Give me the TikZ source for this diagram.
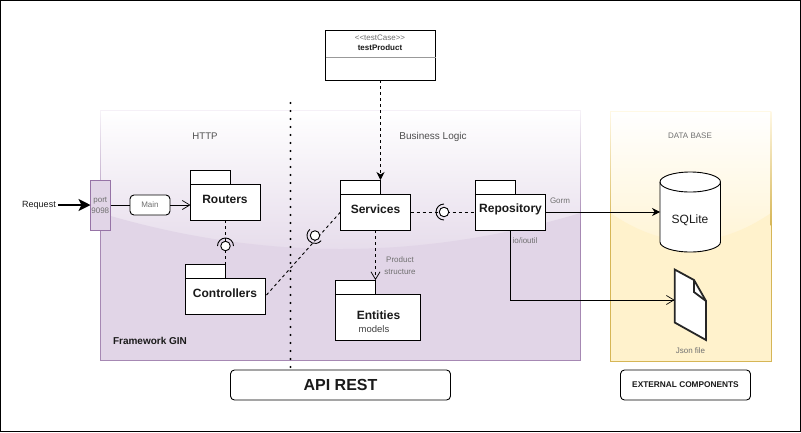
\documentclass[tikz,border=0pt]{standalone}
\usepackage{fontspec}
\setmainfont{Liberation Sans}
\usetikzlibrary{arrows.meta,calc}
\definecolor{purplefill}{HTML}{E1D5E7}
\definecolor{purpleline}{HTML}{9673A6}
\definecolor{yellowfill}{HTML}{FFF2CC}
\definecolor{yellowline}{HTML}{D6B656}
\definecolor{inktext}{HTML}{1A1A1A}
\definecolor{softtext}{HTML}{707070}
\newcommand{\fs}[1]{\fontsize{#1}{#1}\selectfont}
\tikzset{
  x=1pt,y=-1pt,
  every node/.style={inner sep=0pt,outer sep=0pt,text=inktext},
  solidline/.style={draw=black,line width=0.9pt},
  dashline/.style={draw=black,line width=0.9pt,dash pattern=on 3pt off 3pt},
  opentip/.style={-{Straight Barb[length=7.5pt,width=9pt,line width=0.7pt]}},
  filledtip/.style={-{Stealth[length=8pt,width=8pt,inset=2.5pt]}},
  pkgbody/.style={draw=black,fill=white,line width=0.9pt,minimum width=#1},
  pkgtab/.style={draw=black,fill=white,line width=0.9pt,minimum width=40pt,minimum height=14pt},
  pkgtext/.style={font=\fs{12}\bfseries},
  roundbox/.style={draw=black,fill=white,line width=0.9pt,rounded corners=4pt},
  small/.style={text=softtext,font=\fs{8}},
  ball/.style={circle,draw=black,fill=white,line width=0.9pt,minimum size=9.5pt},
  socket/.style={draw=black,line width=0.9pt},
}
\begin{document}
\begin{tikzpicture}
\useasboundingbox (0,0) rectangle (801,432);
\fill[white] (0,0) rectangle (801,432);
\draw[black,line width=1pt] (0.5,0.5) rectangle (800.3,431.2);

% purple container
\shade[top color=white,bottom color=purplefill!82!white]
  (100.5,110.5) rectangle (580.5,250);
\fill[purplefill!82!white] (100.5,250) rectangle (580.5,262);
\fill[purplefill] (100.5,213) .. controls (260.5,261) and (420.5,261) .. (580.5,213)
  -- (580.5,360.5) -- (100.5,360.5) -- cycle;
\draw[purplefill!35!white,line width=0.8pt] (100.5,110.5) -- (580.5,110.5);
\shade[top color=purplefill!30!white,bottom color=purpleline!85!white] (100.1,110.5) rectangle (100.9,225);
\shade[top color=purplefill!30!white,bottom color=purpleline!85!white] (580.1,110.5) rectangle (580.9,225);
\draw[purpleline!85!white,line width=0.8pt] (100.5,225) -- (100.5,360.5) -- (580.5,360.5) -- (580.5,225);

% yellow container
\shade[top color=white,bottom color=yellowfill!85!white]
  (610.5,111) rectangle (771,250);
\fill[yellowfill!85!white] (610.5,250) rectangle (771,262);
\fill[yellowfill] (610.5,213) .. controls (664,250) and (717,250) .. (771,213)
  -- (771,361) -- (610.5,361) -- cycle;
\draw[yellowfill!50!white,line width=0.8pt] (610.5,111) -- (771,111);
\shade[top color=yellowfill!50!white,bottom color=yellowline] (610.1,111) rectangle (610.9,225);
\shade[top color=yellowfill!50!white,bottom color=yellowline] (770.6,111) rectangle (771.4,225);
\draw[yellowline,line width=0.8pt] (610.5,225) -- (610.5,361) -- (771,361) -- (771,225);

% separator
\coordinate (septop) at (290.5,103);
\coordinate (sepbottom) at (290.5,371);
\draw[black,line width=2.2pt,line cap=round,dash pattern=on 0pt off 8pt] (septop) -- (sepbottom);

% labels of regions
\node[font=\fs{9.6},text=softtext!70!black] (httplabel) at (205,136) {HTTP};
\node[font=\fs{10},text=softtext!70!black] (bizlabel) at (433,137) {Business Logic};
\node[small] (dblabel) at (690,136) {DATA BASE};
\node[font=\fs{10}\bfseries] (ginlabel) at (150,340.5) {Framework GIN};

% test case
\node[draw=black,fill=white,line width=0.9pt,minimum width=110pt,minimum height=50pt] (testcase) at (380.5,55) {};
\draw[black!40,line width=0.9pt] (testcase.west |- 0,57) -- (testcase.east |- 0,57);
\node[small] (stereotype) at (380,38) {<{}<testCase>{}>};
\node[font=\fs{8}\bfseries] (testname) at (380,48) {testProduct};

% packages
\node[pkgtab] (routerstab) at (210.5,177) {};
\node[pkgbody=70pt,minimum height=36pt] (routers) at (225.5,202) {};
\node[pkgtext] (routerstext) at (225,199.5) {Routers};
\node[pkgtab] (controllerstab) at (205.5,271) {};
\node[pkgbody=80pt,minimum height=36pt] (controllers) at (225.5,296) {};
\node[pkgtext] (controllerstext) at (225,293.5) {Controllers};
\node[pkgtab] (servicestab) at (360.5,187) {};
\node[pkgbody=70pt,minimum height=36pt] (services) at (375.5,212) {};
\node[pkgtext] (servicestext) at (375.5,209.5) {Services};
\node[pkgtab] (repotab) at (495.5,187) {};
\node[pkgbody=70pt,minimum height=36pt] (repository) at (510.5,212) {};
\node[pkgtext] (repotext) at (510.5,209.5) {Repository};
\node[pkgtab] (entitiestab) at (355.5,287) {};
\node[pkgbody=85pt,minimum height=46pt] (entities) at (378,317) {};
\node[pkgtext] (entitiestext) at (378.5,315) {Entities};
\node[font=\fs{9.5},text=black!75] (modelstext) at (374,329.5) {models};

% port and request
\node[draw=purpleline,fill=purplefill,line width=0.9pt,minimum width=20pt,minimum height=50pt] (port) at (100.5,205) {};
\node[small] (porttext) at (100.3,200.5) {port};
\node[small] (portnum) at (100.3,211) {9098};
\node[font=\fs{9}] (request) at (39,205) {Request};
\draw[black,line width=2pt,-{Stealth[length=12pt,width=12pt,inset=3pt]}] (request.east)+(2.5,0) -- (port.west);
\node[roundbox,minimum width=40pt,minimum height=20pt,font=\fs{8},text=softtext] (main) at (150,205) {Main};
\draw[solidline] (port.east) -- (main.west);
\draw[solidline,opentip] (main.east) -- (main.east -| routers.west);

% interfaces
\coordinate (ifa) at (225.5,246);
\coordinate (ifb) at (315,235.5);
\coordinate (ifc) at (444,212);
\draw[dashline] (routers.south) -- (controllerstab.north east);
\draw[dashline] ($(controllers.east)+(1,-1)$) -- (services.west);
\draw[dashline] (services.east) -- (repository.west);
\node[ball] (balla) at (ifa) {};
\node[ball] (ballb) at (ifb) {};
\node[ball] (ballc) at (ifc) {};
\draw[socket] (balla.center) ++(180:8pt) arc[start angle=180,end angle=0,radius=8pt];
\draw[socket] (ballc.center) ++(90:8pt) arc[start angle=90,end angle=270,radius=8pt];
\draw[socket] (ballb.center) ++(130:8pt) arc[start angle=130,end angle=320,radius=8pt];

% dependencies
\draw[dashline,filledtip] (testcase.south) -- (servicestab.north east);
\draw[dashline,opentip] (services.south) -- (entitiestab.north east);
\node[small] (prod1) at (400,260) {Product};
\node[small] (prod2) at (400,272) {structure};

% database
\node[minimum width=60.5pt,minimum height=80pt] (sqlite) at (690.3,212) {};
\draw[black,fill=white,line width=0.9pt]
  (660,182) -- (660,242) arc[start angle=180,end angle=360,x radius=30.25pt,y radius=10pt]
  -- (720.5,182) arc[start angle=0,end angle=180,x radius=30.25pt,y radius=10pt] -- cycle;
\draw[black,line width=0.9pt] (660,182) arc[start angle=180,end angle=360,x radius=30.25pt,y radius=10pt];
\node[font=\fs{12}] (sqlitetext) at (690,220) {SQLite};
\draw[solidline,filledtip] (repository.east) -- (sqlite.west);
\node[small] (gorm) at (560,201) {Gorm};

% json file
\node[minimum width=31.5pt,minimum height=4pt] (jsonfile) at (690.3,300) {};
\draw[black!85,fill=white,line width=1.8pt,line join=miter]
  (674.7,269.5) -- (694,280) -- (706,301) -- (706,340) -- (674.7,322.5) -- cycle;
\draw[black!85,line width=1.8pt] (694,280) -- (694,292) -- (706,301);
\draw[solidline,opentip] (repository.south) |- (jsonfile.west);
\node[small] (iolabel) at (525,241) {io/ioutil};
\node[small] (jsonlabel) at (690.5,351) {Json file};

% captions
\node[roundbox,minimum width=220pt,minimum height=30pt,font=\fs{16}\bfseries] (api) at (340.5,385) {API REST};
\node[roundbox,minimum width=130pt,minimum height=30pt,font=\fs{8.3}\bfseries] (external) at (685.5,385) {EXTERNAL COMPONENTS};
\end{tikzpicture}
\end{document}
